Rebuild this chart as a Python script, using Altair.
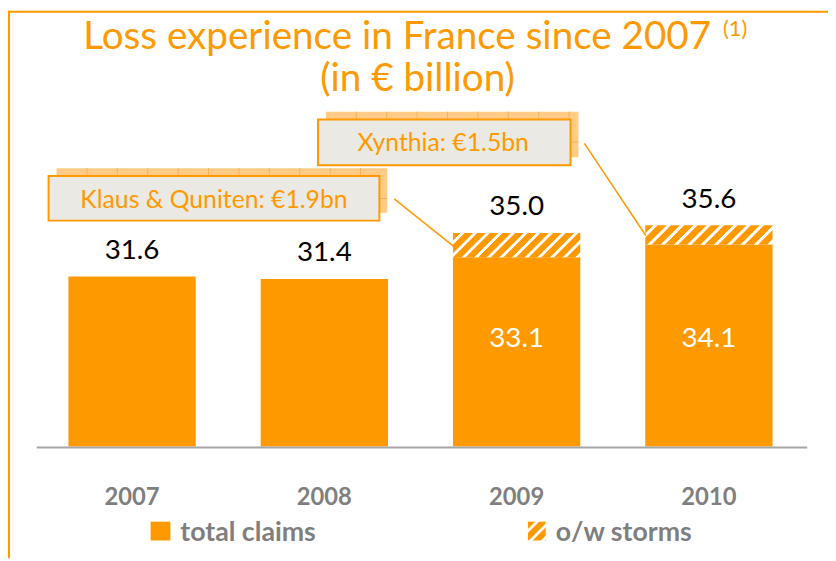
import altair as alt
import pandas as pd

# ---- data ----
years = ["2007", "2008", "2009", "2010"]
base_claims = [31.6, 31.4, 33.1, 34.1]      # solid part of each bar
total_claims = [31.6, 31.4, 35.0, 35.6]     # total incl. storms
storms = [0.0, 0.0, 1.9, 1.5]               # o/w storms
top_labels = ["31.6", "31.4", "35.0", "35.6"]
inner_labels = ["", "", "33.1", "34.1"]

title_line1 = "Loss experience in France since 2007"
title_note = "(1)"
title_line2 = "(in € billion)"
note_klaus = "Klaus & Quniten: €1.9bn"
note_xynthia = "Xynthia: €1.5bn"
legend_labels = ["total claims", "o/w storms"]

# ---- style ----
ORANGE = "#FF9900"
GRAY = "#7F7F7F"
BOX_FILL = "#EBE9E4"
SHADOW = "#FFCB85"
SHADOW_LINE = "#F6B25A"
AXIS_GRAY = "#A6A6A6"
FONT = "Lato"

W, H = 828, 553
Y0, Y1 = 18.31, 38.0
Y_RANGE = [440, 185.8]
X_RANGE = [61, 772]
P_IN, P_OUT = 0.338, 0.0

step = (X_RANGE[1] - X_RANGE[0]) / (len(years) - P_IN + 2 * P_OUT)
band_w = step * (1 - P_IN)
ppu = (Y_RANGE[0] - Y_RANGE[1]) / (Y1 - Y0)

df = pd.DataFrame({
    "year": years,
    "base": base_claims,
    "total": total_claims,
    "storms": storms,
    "top_label": top_labels,
    "inner_label": inner_labels,
})

xs = alt.Scale(domain=years, range=X_RANGE, paddingInner=P_IN, paddingOuter=P_OUT)
ys = alt.Scale(domain=[Y0, Y1], range=Y_RANGE, zero=False, nice=False)
X = alt.X("year:N", scale=xs, axis=None)


def hatch(w, h, period=13.0, c1=ORANGE, c2="#FFFFFF"):
    r = h / w
    s = (1 + r) / (1 + r * r)
    n = max(1, round((w + h) / period))
    stops = []
    for k in range(n):
        a = k / n
        stops += [
            {"offset": a, "color": c1},
            {"offset": a + 0.56 / n, "color": c1},
            {"offset": a + 0.64 / n, "color": c2},
            {"offset": a + 0.88 / n, "color": c2},
            {"offset": min(1.0, a + 0.96 / n), "color": c1},
        ]
    stops.append({"offset": 1.0, "color": c1})
    return {"gradient": "linear", "x1": 0, "y1": 0, "x2": s, "y2": s * r, "stops": stops}


def lone(**kw):
    return alt.Chart(pd.DataFrame([kw if kw else {"k": 0}]))


layers = []

# borders (slide frame)
layers.append(lone().mark_rule(color=ORANGE, strokeWidth=2).encode(
    x=alt.value(0), x2=alt.value(W), y=alt.value(1), y2=alt.value(1)))
layers.append(lone().mark_rule(color=ORANGE, strokeWidth=2).encode(
    x=alt.value(1), x2=alt.value(1), y=alt.value(0), y2=alt.value(H)))

# title
layers.append(lone(t=title_line1).mark_text(font=FONT, fontSize=39, color=ORANGE,
                                              align="center", baseline="alphabetic").encode(
    x=alt.value(393), y=alt.value(39), text="t:N"))
layers.append(lone(t=title_note).mark_text(font=FONT, fontSize=22, color=ORANGE,
                                             align="left", baseline="alphabetic").encode(
    x=alt.value(722), y=alt.value(26), text="t:N"))
layers.append(lone(t=title_line2).mark_text(font=FONT, fontSize=39, color=ORANGE,
                                              align="center", baseline="alphabetic").encode(
    x=alt.value(413.5), y=alt.value(81), text="t:N"))

# bars
layers.append(alt.Chart(df).mark_bar(color=ORANGE).encode(
    x=X, y=alt.Y("base:Q", scale=ys, axis=None), y2=alt.datum(Y0)))
for yr, b, t in zip(years, base_claims, total_claims):
    if t > b:
        layers.append(alt.Chart(df).transform_filter(alt.datum.year == yr).mark_bar(
            fill=hatch(band_w, (t - b) * ppu)).encode(
            x=X, y=alt.Y("total:Q", scale=ys, axis=None), y2="base:Q"))

# baseline
layers.append(lone().mark_rule(color=AXIS_GRAY, strokeWidth=2).encode(
    x=alt.value(29), x2=alt.value(807), y=alt.value(441), y2=alt.value(441)))

# value labels
layers.append(alt.Chart(df).mark_text(font=FONT, fontSize=28, color="black",
                                      baseline="alphabetic", dy=-18).encode(
    x=X, y=alt.Y("total:Q", scale=ys, axis=None), text="top_label:N"))
layers.append(alt.Chart(df).transform_filter(alt.datum.inner_label != "").mark_text(
    font=FONT, fontSize=28, color="white", baseline="alphabetic").encode(
    x=X, y=alt.value(340), text="inner_label:N"))

# year labels
layers.append(alt.Chart(df).mark_text(font=FONT, fontSize=24, fontWeight="bold", color=GRAY,
                                      baseline="alphabetic").encode(
    x=X, y=alt.value(499), text="year:N"))


# annotation boxes (with textured offset shadow)
def note_box(x0, y0, x1, y1, text, tx, ty, tile=30.7):
    out = []
    sx0, sx1, sy0, sy1 = x0 + 8, x1 + 8, y0 - 8, y1 - 8
    out.append(lone().mark_rect(color=SHADOW).encode(
        x=alt.value(sx0), x2=alt.value(sx1), y=alt.value(sy0), y2=alt.value(sy1)))
    gx = sx0 + tile
    while gx < sx1 - 1:
        out.append(lone().mark_rule(color=SHADOW_LINE, strokeWidth=1).encode(
            x=alt.value(gx), x2=alt.value(gx), y=alt.value(sy0), y2=alt.value(sy1)))
        gx += tile
    out.append(lone().mark_rule(color=SHADOW_LINE, strokeWidth=1).encode(
        x=alt.value(sx0), x2=alt.value(sx1), y=alt.value(sy0 + tile), y2=alt.value(sy0 + tile)))
    out.append(lone().mark_rect(fill=BOX_FILL, stroke=ORANGE, strokeWidth=2).encode(
        x=alt.value(x0), x2=alt.value(x1), y=alt.value(y0), y2=alt.value(y1)))
    out.append(lone(t=text).mark_text(font=FONT, fontSize=25, color=ORANGE,
                                      align="center", baseline="alphabetic").encode(
        x=alt.value(tx), y=alt.value(ty), text="t:N"))
    return out

layers += note_box(41, 167, 375, 212, note_klaus, 208, 199)
layers += note_box(313, 110, 568, 156, note_xynthia, 439.5, 142)

# connector lines
layers.append(lone().mark_rule(color=ORANGE, strokeWidth=1.5).encode(
    x=alt.value(390), y=alt.value(190), x2=alt.value(450), y2=alt.value(238)))
layers.append(lone().mark_rule(color=ORANGE, strokeWidth=1.5).encode(
    x=alt.value(582), y=alt.value(134), x2=alt.value(644), y2=alt.value(227)))

# legend
layers.append(lone().mark_rect(color=ORANGE).encode(
    x=alt.value(144), x2=alt.value(164), y=alt.value(516), y2=alt.value(535)))
layers.append(lone(t=legend_labels[0]).mark_text(font=FONT, fontSize=27, fontWeight="bold",
                                                  color=GRAY, align="left", baseline="alphabetic").encode(
    x=alt.value(174), y=alt.value(535), text="t:N"))
layers.append(lone().mark_rect(fill=hatch(18, 19, period=14)).encode(
    x=alt.value(525), x2=alt.value(543), y=alt.value(516), y2=alt.value(535)))
layers.append(lone(t=legend_labels[1]).mark_text(font=FONT, fontSize=27, fontWeight="bold",
                                                  color=GRAY, align="left", baseline="alphabetic").encode(
    x=alt.value(553), y=alt.value(535), text="t:N"))

chart = alt.layer(*layers).properties(
    width=W, height=H, autosize="none", padding=0, background="white"
).configure_view(stroke=None)

chart.save("out.html", embed_options={"renderer": "svg", "actions": False})
